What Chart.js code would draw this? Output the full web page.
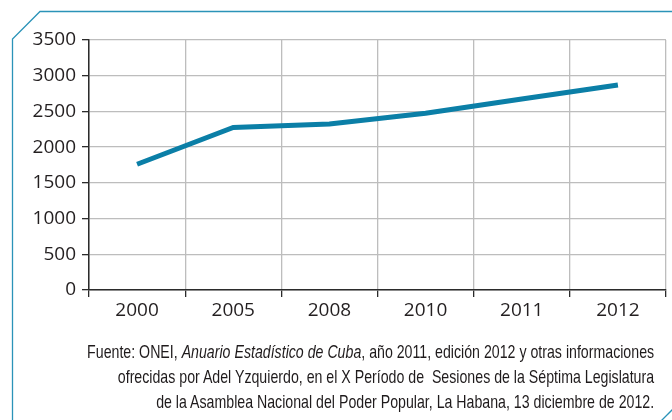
<!DOCTYPE html>
<html>
<head>
<meta charset="utf-8">
<script src="https://cdn.jsdelivr.net/npm/chart.js@4.4.1/dist/chart.umd.min.js"></script>
<style>
  html, body { margin: 0; padding: 0; background: #fff; }
  #wrap { position: relative; width: 672px; height: 420px; overflow: hidden; }
  #chart { position: absolute; left: 0; top: 0; }
  #note {
    position: absolute; right: 18px; top: 339px;
    font-family: "Liberation Sans", Arial, sans-serif;
    font-size: 18.5px; line-height: 25px; color: #1f1b1c; text-align: right;
    white-space: nowrap; transform-origin: right top;
  }
</style>
</head>
<body>
<div id="wrap">
  <canvas id="chart" width="672" height="420"></canvas>
  <div id="note"><span id="l1">Fuente: ONEI, <i>Anuario Estadístico de Cuba</i>, año 2011, edición 2012 y otras informaciones</span><br>ofrecidas por Adel Yzquierdo, en el X Período de&nbsp; Sesiones de la Séptima Legislatura<br>de la Asamblea Nacional del Poder Popular, La Habana, 13 diciembre de 2012.</div>
</div>
<script>
var years = ["2000", "2005", "2008", "2010", "2011", "2012"];
var values = [1760, 2275, 2325, 2475, 2675, 2870];
var yMin = 0, yMax = 3500, yStep = 500;

var frameColor = "#2b93b8";
var lineColor = "#0b7fa7";
var axisColor = "#2b2b2b";
var gridColor = "#bdbdbd";
var tickFont = { family: "'Open Sans', sans-serif", size: 19 };

// squeeze the source note to the condensed look of the original
var note = document.getElementById("note");
var firstLine = document.getElementById("l1").getBoundingClientRect().width;
note.style.transform = "scaleX(" + (567 / firstLine) + ")";

// cut-corner frame round the figure
var framePlugin = {
  id: "frame",
  beforeDraw: function (chart) {
    var ctx = chart.ctx;
    ctx.save();
    ctx.strokeStyle = frameColor;
    ctx.lineWidth = 1.3;
    ctx.beginPath();
    ctx.moveTo(12.5, 425);
    ctx.lineTo(12.5, 39);
    ctx.lineTo(40, 11.5);
    ctx.lineTo(680, 11.5);
    ctx.stroke();
    ctx.beginPath();
    ctx.moveTo(660, 422);
    ctx.lineTo(674, 408);
    ctx.stroke();
    ctx.restore();
  }
};

new Chart(document.getElementById("chart"), {
  type: "line",
  data: {
    labels: years,
    datasets: [{
      data: values,
      borderColor: lineColor,
      borderWidth: 5,
      pointRadius: 0,
      tension: 0,
      fill: false
    }]
  },
  options: {
    responsive: false,
    animation: false,
    layout: { padding: { left: 0, right: 6, top: 40, bottom: 0 } },
    plugins: { legend: { display: false }, tooltip: { enabled: false } },
    scales: {
      x: {
        offset: true,
        grid: { offset: true, color: gridColor, tickColor: axisColor, tickLength: 7, lineWidth: 1.3 },
        border: { color: axisColor, width: 1.5 },
        ticks: { color: "#231f20", font: tickFont, padding: 2 },
        afterFit: function (scale) { scale.height = 130; }
      },
      y: {
        min: yMin,
        max: yMax,
        grid: { color: gridColor, tickColor: axisColor, tickLength: 7, lineWidth: 1.3 },
        border: { color: axisColor, width: 1.5 },
        ticks: {
          stepSize: yStep, color: "#231f20", font: tickFont, padding: 6,
          callback: function (v) { return String(v); }
        },
        afterFit: function (scale) { scale.width = 89; }
      }
    }
  },
  plugins: [framePlugin]
});
</script>
</body>
</html>
